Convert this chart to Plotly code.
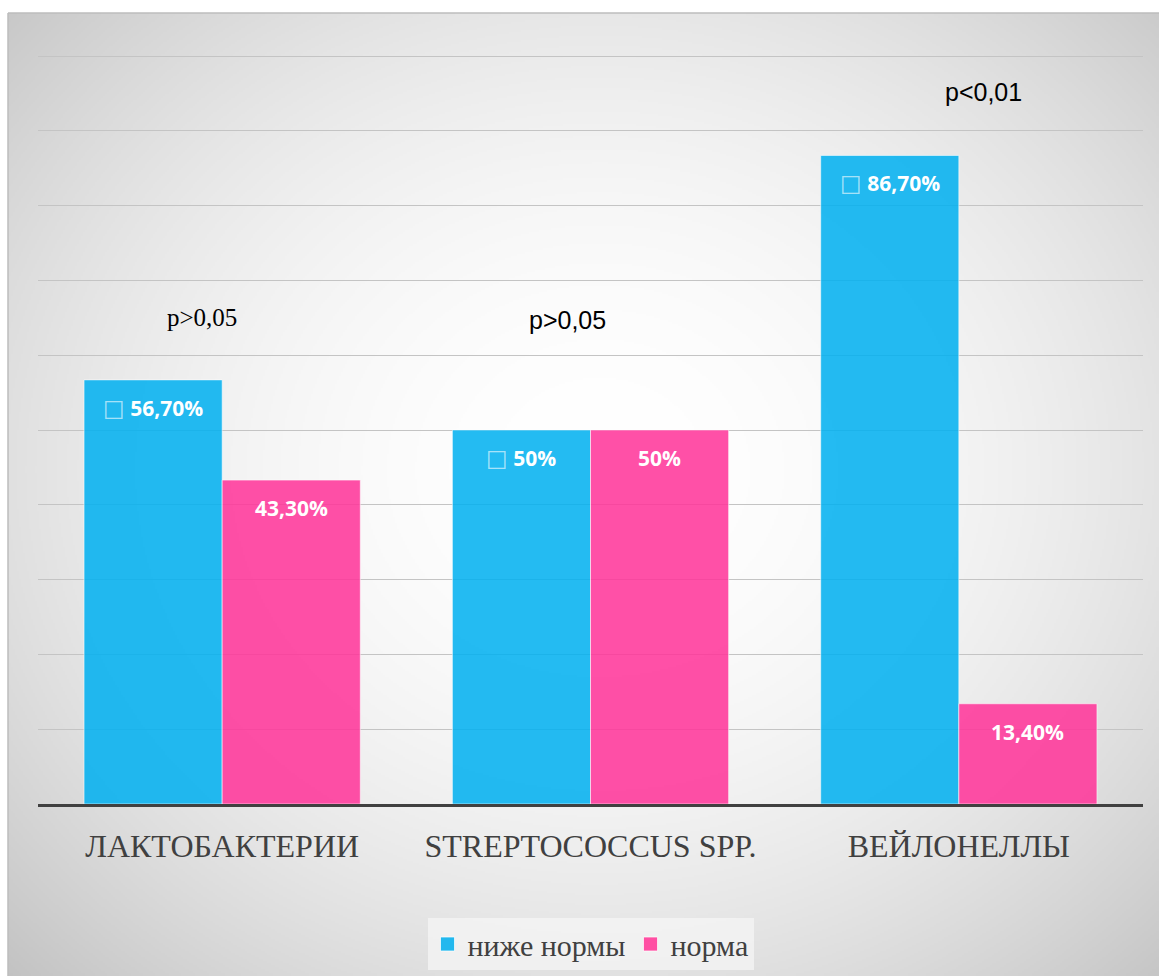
import base64
import struct
import zlib

import numpy as np
import plotly.graph_objects as go

# ---- data -------------------------------------------------------------
categories = ["ЛАКТОБАКТЕРИИ", "STREPTOCOCCUS SPP.", "ВЕЙЛОНЕЛЛЫ"]
below_norm = [56.7, 50.0, 86.7]   # ниже нормы, %
norm = [43.3, 50.0, 13.4]         # норма, %
series_names = ["ниже нормы", "норма"]
p_values = ["p>0,05", "p>0,05", "p<0,01"]

# ---- styling ----------------------------------------------------------
W, H = 1159, 976
M_L, M_R, M_T, M_B = 38, 16, 13, 172
PX_PER_UNIT = 7.48
Y_MAX = (H - M_T - M_B) / PX_PER_UNIT

BLUE = "rgba(0,176,240,0.86)"
PINK = "rgba(255,51,153,0.86)"
BLUE_KEY = "#22b8ee"
PINK_KEY = "#ff4fa3"
TEXT_DARK = "#404040"
BARGAP = 0.25


def fmt_pct(v):
    if float(v).is_integer():
        return f"{int(v)}%"
    return f"{v:.2f}".replace(".", ",") + "%"


def png_data_uri(gray):
    """Encode a 2-D uint8 array as a greyscale PNG data URI."""
    h, w = gray.shape
    raw = b"".join(b"\x00" + gray[i].tobytes() for i in range(h))

    def chunk(tag, data):
        c = struct.pack(">I", len(data)) + tag + data
        return c + struct.pack(">I", zlib.crc32(tag + data) & 0xFFFFFFFF)

    png = (b"\x89PNG\r\n\x1a\n"
           + chunk(b"IHDR", struct.pack(">IIBBBBB", w, h, 8, 0, 0, 0, 0))
           + chunk(b"IDAT", zlib.compress(raw, 9))
           + chunk(b"IEND", b""))
    return "data:image/png;base64," + base64.b64encode(png).decode()


# radial grey-to-white backdrop panel
PANEL_X0, PANEL_Y0 = 8, 13
PANEL_W, PANEL_H = W - PANEL_X0, H - PANEL_Y0
gw, gh = PANEL_W // 2, PANEL_H // 2
xs = PANEL_X0 + (np.arange(gw) + 0.5) * PANEL_W / gw
ys = PANEL_Y0 + (np.arange(gh) + 0.5) * PANEL_H / gh
gx, gy = np.meshgrid(xs, ys)
r2 = ((gx - 600) / 575) ** 2 + ((gy - 470) / 500) ** 2
shade = np.clip(255 - 29 * r2, 190, 255).astype(np.uint8)
backdrop = png_data_uri(shade)

plot_w = W - M_L - M_R
plot_h = H - M_T - M_B
px_x = lambda px: (px - M_L) / plot_w          # canvas px -> paper x
px_y = lambda py: (H - M_B - py) / plot_h      # canvas px -> paper y

fig = go.Figure()
for name, vals, color in [(series_names[0], below_norm, BLUE),
                          (series_names[1], norm, PINK)]:
    fig.add_trace(go.Bar(
        name=name, x=categories, y=vals, showlegend=False,
        marker=dict(color=color, line=dict(color="rgba(255,255,255,0.55)", width=1)),
        hoverinfo="skip",
    ))
# legend keys
for name, color in [(series_names[0], BLUE_KEY), (series_names[1], PINK_KEY)]:
    fig.add_trace(go.Scatter(
        name=name, x=[None], y=[None], mode="markers",
        marker=dict(symbol="square", size=14, color=color,
                    line=dict(color="rgba(255,255,255,0.7)", width=1)),
    ))

annotations = []
half = (1 - BARGAP) / 4
label_font = dict(family="Open Sans", size=21, color="white", weight="bold")
for i in range(len(categories)):
    annotations.append(dict(
        x=i - half, y=below_norm[i], xref="x", yref="y", yshift=-28,
        text='<span style="color:rgba(255,255,255,0.6);font-family:DejaVu Sans;'
             'font-weight:normal;font-size:23px">□</span> ' + fmt_pct(below_norm[i]),
        showarrow=False, font=label_font,
    ))
    annotations.append(dict(
        x=i + half, y=norm[i], xref="x", yref="y", yshift=-28,
        text=fmt_pct(norm[i]), showarrow=False, font=label_font,
    ))

# significance notes above each group
p_pos = [(-0.055, 65.0, "Liberation Serif"),
         (-0.062, 64.7, "Liberation Sans"),
         (0.068, 95.2, "Liberation Sans")]
for i, (dx, y, fam) in enumerate(p_pos):
    annotations.append(dict(
        x=i + dx, y=y, xref="x", yref="y", text=p_values[i], showarrow=False,
        font=dict(family=fam, size=25, color="black"),
    ))

fig.update_layout(
    width=W, height=H,
    margin=dict(l=M_L, r=M_R, t=M_T, b=M_B, pad=0, autoexpand=False),
    paper_bgcolor="white",
    plot_bgcolor="rgba(0,0,0,0)",
    barmode="group", bargap=BARGAP, bargroupgap=0,
    showlegend=True,
    legend=dict(
        orientation="h", x=0.5, xanchor="center", y=px_y(944), yanchor="middle",
        font=dict(family="Liberation Serif, Times New Roman, serif", size=30, color=TEXT_DARK),
        bgcolor="rgba(246,246,246,0.7)", itemsizing="trace",
        traceorder="normal",
    ),
    xaxis=dict(
        showgrid=False, showline=True, linecolor=TEXT_DARK, linewidth=3,
        ticks="", tickfont=dict(family="Liberation Serif", size=32, color=TEXT_DARK),
        ticklabelstandoff=12, fixedrange=True, automargin=False,
    ),
    yaxis=dict(
        range=[0, Y_MAX], dtick=10, showgrid=True, gridcolor="#c4c4c4", gridwidth=1,
        showticklabels=False, zeroline=False, showline=False, fixedrange=True,
        automargin=False,
    ),
    images=[dict(
        source=backdrop, xref="paper", yref="paper",
        x=px_x(PANEL_X0), y=px_y(PANEL_Y0),
        sizex=PANEL_W / plot_w, sizey=PANEL_H / plot_h,
        xanchor="left", yanchor="top", sizing="stretch", layer="below",
    )],
    shapes=[
        dict(type="line", xref="paper", yref="paper", layer="below",
             x0=px_x(PANEL_X0), x1=px_x(W), y0=px_y(PANEL_Y0), y1=px_y(PANEL_Y0),
             line=dict(color="#bdbdbd", width=1.5)),
        dict(type="line", xref="paper", yref="paper", layer="below",
             x0=px_x(PANEL_X0), x1=px_x(PANEL_X0), y0=px_y(PANEL_Y0), y1=px_y(H),
             line=dict(color="#bdbdbd", width=1.5)),
    ],
    annotations=annotations,
)

fig.write_html("out.html")
